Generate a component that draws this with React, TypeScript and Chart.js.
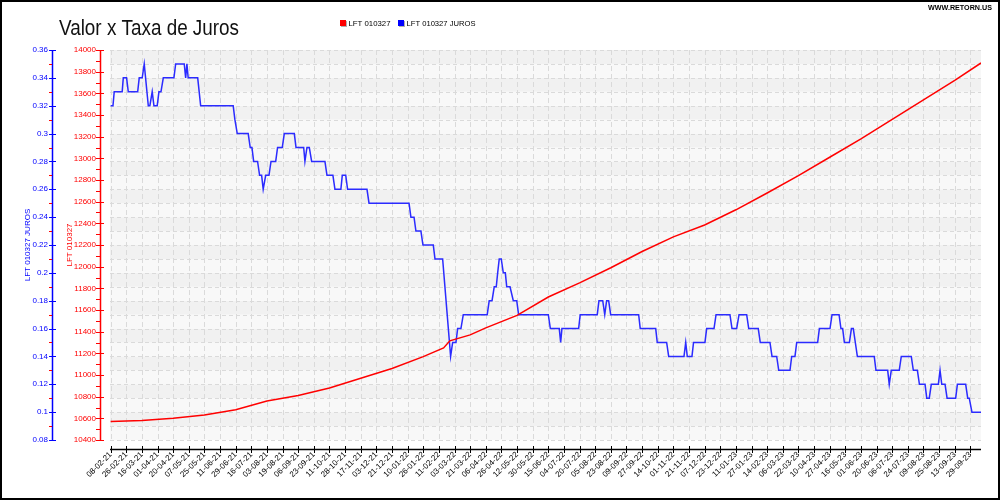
import React, { useEffect, useRef } from "react";
import { Chart, registerables } from "chart.js";

Chart.register(...registerables);

const TITLE = "Valor x Taxa de Juros";
const SERIES_VALOR = "LFT 010327";
const SERIES_JUROS = "LFT 010327 JUROS";
const WATERMARK = "WWW.RETORN.US";

const xLabels = [
  "08-02-21", "26-02-21", "16-03-21", "01-04-21", "20-04-21", "07-05-21", "25-05-21", "11-06-21",
  "29-06-21", "16-07-21", "03-08-21", "19-08-21", "06-09-21", "23-09-21", "11-10-21", "28-10-21",
  "17-11-21", "03-12-21", "21-12-21", "10-01-22", "26-01-22", "11-02-22", "03-03-22", "21-03-22",
  "06-04-22", "26-04-22", "12-05-22", "30-05-22", "15-06-22", "04-07-22", "20-07-22", "05-08-22",
  "23-08-22", "09-09-22", "27-09-22", "14-10-22", "01-11-22", "21-11-22", "07-12-22", "23-12-22",
  "11-01-23", "27-01-23", "14-02-23", "06-03-23", "22-03-23", "10-04-23", "27-04-23", "16-05-23",
  "01-06-23", "20-06-23", "06-07-23", "24-07-23", "09-08-23", "25-08-23", "13-09-23", "29-09-23",
];

const valorTicks = [10400, 10600, 10800, 11000, 11200, 11400, 11600, 11800, 12000, 12200, 12400,
  12600, 12800, 13000, 13200, 13400, 13600, 13800, 14000];
const jurosTicks = [0.08, 0.1, 0.12, 0.14, 0.16, 0.18, 0.2, 0.22, 0.24, 0.26, 0.28, 0.3, 0.32, 0.34, 0.36];

// position along the date axis (in label-index units) and value
const valorX = [0, 2, 4, 6, 8, 10, 12, 14, 16, 18, 20, 21.3, 21.7, 23, 24, 26, 28, 30, 32, 34, 36,
  38, 40, 42, 44, 46, 48, 50, 52, 54, 55.68];
const valorY = [10570, 10580, 10600, 10630, 10680, 10760, 10810, 10880, 10970, 11060, 11170, 11250,
  11315, 11370, 11435, 11550, 11720, 11850, 11990, 12140, 12275, 12385, 12525, 12680, 12840, 13010,
  13180, 13360, 13540, 13720, 13880];

const jurosX = [
  0, 0.15, 0.23, 0.74, 0.81, 1.02, 1.13, 1.73, 1.83, 2.02, 2.15, 2.41, 2.51, 2.66, 2.77, 2.98,
  3.09, 3.22, 3.37, 4.05, 4.16, 4.71, 4.8, 4.88, 4.96, 5.57, 5.76, 7.84, 7.95, 8.1, 8.8, 8.93,
  9.04, 9.15, 9.4, 9.53, 9.66, 9.76, 9.92, 10.13, 10.26, 10.56, 10.68, 10.98, 11.11, 11.75, 11.86,
  12.35, 12.43, 12.56, 12.71, 12.86, 13.71, 13.84, 14.22, 14.35, 14.73, 14.82, 15.04, 15.16, 16.4,
  16.53, 19.09, 19.21, 19.41, 19.53, 19.85, 19.98, 20.64, 20.75, 21.24, 21.75, 21.88, 22.09, 22.2,
  22.41, 22.56, 24.09, 24.22, 24.4, 24.54, 24.67, 24.76, 24.86, 24.99, 25.12, 25.25, 25.34, 25.55,
  25.76, 25.98, 26.1, 28.0, 28.13, 28.7, 28.79, 28.87, 29.94, 30.04, 31.13, 31.24, 31.48, 31.61,
  31.73, 31.86, 31.99, 33.78, 33.88, 34.87, 34.97, 35.57, 35.7, 36.68, 36.79, 36.89, 37.19, 37.29,
  38.02, 38.13, 38.6, 38.73, 39.62, 39.75, 40.05, 40.2, 40.69, 40.82, 41.43, 41.56, 42.18, 42.31,
  42.61, 42.74, 43.46, 43.57, 43.78, 43.89, 45.23, 45.34, 46.02, 46.15, 46.6, 46.72, 46.83, 46.94,
  47.26, 47.39, 47.51, 47.64, 47.77, 48.85, 48.96, 49.71, 49.81, 49.94, 50.45, 50.58, 51.22, 51.35,
  51.61, 51.74, 52.1, 52.21, 52.37, 52.5, 52.95, 53.06, 53.17, 53.38, 53.51, 54.06, 54.17, 54.7,
  54.83, 54.93, 55.1, 55.68,
];
const jurosY = [
  0.32, 0.32, 0.33, 0.33, 0.34, 0.34, 0.33, 0.33, 0.34, 0.34, 0.35, 0.32, 0.32, 0.33, 0.32, 0.32,
  0.33, 0.33, 0.34, 0.34, 0.35, 0.35, 0.34, 0.35, 0.34, 0.34, 0.32, 0.32, 0.31, 0.3, 0.3, 0.29,
  0.29, 0.28, 0.28, 0.27, 0.27, 0.26, 0.27, 0.27, 0.28, 0.28, 0.29, 0.29, 0.3, 0.3, 0.29,
  0.29, 0.28, 0.29, 0.29, 0.28, 0.28, 0.27, 0.27, 0.26, 0.26, 0.27, 0.27, 0.26, 0.26,
  0.25, 0.25, 0.24, 0.24, 0.23, 0.23, 0.22, 0.22, 0.21, 0.21, 0.14, 0.15, 0.15, 0.16,
  0.16, 0.17, 0.17, 0.18, 0.18, 0.19, 0.19, 0.2, 0.21, 0.21, 0.2, 0.2, 0.19, 0.19,
  0.18, 0.18, 0.17, 0.17, 0.16, 0.16, 0.15, 0.16, 0.16, 0.17, 0.17, 0.18, 0.18, 0.17,
  0.18, 0.18, 0.17, 0.17, 0.16, 0.16, 0.15, 0.15, 0.14, 0.14, 0.15, 0.14, 0.14, 0.15,
  0.15, 0.16, 0.16, 0.17, 0.17, 0.16, 0.16, 0.17, 0.17, 0.16, 0.16, 0.15, 0.15, 0.14,
  0.14, 0.13, 0.13, 0.14, 0.14, 0.15, 0.15, 0.16, 0.16, 0.17, 0.17, 0.16, 0.16, 0.15,
  0.15, 0.16, 0.16, 0.15, 0.14, 0.14, 0.13, 0.13, 0.12, 0.13, 0.13, 0.14, 0.14, 0.13,
  0.13, 0.12, 0.12, 0.11, 0.11, 0.12, 0.12, 0.13, 0.12, 0.12, 0.11, 0.11, 0.12, 0.12,
  0.11, 0.11, 0.1, 0.1,
];

const RED = "#ff0000";
const BLUE = "#0000ff";
const FONT = "'Liberation Sans', Arial, sans-serif";

function fitText(ctx: CanvasRenderingContext2D, text: string, x: number, y: number, w: number,
  font: string, color: string, baseline: CanvasTextBaseline) {
  ctx.save();
  ctx.font = font;
  ctx.fillStyle = color;
  ctx.textAlign = "left";
  ctx.textBaseline = baseline;
  const m = ctx.measureText(text).width || 1;
  ctx.translate(x, y);
  ctx.scale(w / m, 1);
  ctx.fillText(text, 0, 0);
  ctx.restore();
}

function seg(ctx: CanvasRenderingContext2D, x1: number, y1: number, x2: number, y2: number) {
  ctx.beginPath();
  ctx.moveTo(x1, y1);
  ctx.lineTo(x2, y2);
  ctx.stroke();
}

const decor = {
  id: "decor",
  beforeDatasetsDraw(chart: any) {
    const { ctx, chartArea: a, scales } = chart;
    const yJ = scales.yJ;
    const x = scales.x;
    ctx.save();
    for (let k = 0; k < 28; k++) {
      const p0 = yJ.getPixelForValue(0.08 + k * 0.01);
      const p1 = yJ.getPixelForValue(0.08 + (k + 1) * 0.01);
      ctx.fillStyle = k % 2 ? "#f1f1f1" : "#f8f8f8";
      ctx.fillRect(a.left, p1, a.right - a.left, p0 - p1);
    }
    ctx.lineWidth = 1;
    ctx.strokeStyle = "#dadada";
    ctx.setLineDash([4, 3]);
    for (let k = 0; k <= 28; k++) {
      const p = Math.round(yJ.getPixelForValue(0.08 + k * 0.01)) + 0.5;
      seg(ctx, a.left, p, a.right, p);
    }
    ctx.setLineDash([5, 3]);
    for (let i = 0; i < xLabels.length; i++) {
      const p = Math.round(x.getPixelForValue(i)) + 0.5;
      seg(ctx, p, a.top, p, a.bottom);
    }
    ctx.restore();
  },
  afterDraw(chart: any) {
    const { ctx, chartArea: a, scales } = chart;
    const yV = scales.yV;
    const yJ = scales.yJ;
    const x = scales.x;
    ctx.save();
    ctx.setLineDash([]);
    // red value axis
    const rx = 100.5;
    ctx.lineWidth = 1.5;
    ctx.strokeStyle = RED;
    seg(ctx, rx, yV.getPixelForValue(14000), rx, yV.getPixelForValue(10400));
    ctx.lineWidth = 1;
    for (let k = 0; k <= 36; k++) {
      const v = 10400 + k * 100;
      const p = Math.round(yV.getPixelForValue(v)) + 0.5;
      if (k % 2 === 0) seg(ctx, 96, p, 104, p);
      else seg(ctx, 96, p, 100, p);
    }
    // blue rate axis
    const bx = 52.5;
    ctx.lineWidth = 1.5;
    ctx.strokeStyle = BLUE;
    seg(ctx, bx, yJ.getPixelForValue(0.36), bx, yJ.getPixelForValue(0.08));
    ctx.lineWidth = 1;
    for (let k = 0; k <= 28; k++) {
      const p = Math.round(yJ.getPixelForValue(0.08 + k * 0.01)) + 0.5;
      if (k % 2 === 0) {
        ctx.strokeStyle = BLUE;
        seg(ctx, 49, p, 56, p);
      } else {
        ctx.strokeStyle = RED;
        seg(ctx, 49, p, 52, p);
      }
    }
    // date axis
    ctx.strokeStyle = "#000";
    ctx.lineWidth = 1.5;
    seg(ctx, a.left, 449.5, a.right, 449.5);
    ctx.lineWidth = 1;
    for (let i = 0; i < xLabels.length; i++) {
      const p = Math.round(x.getPixelForValue(i)) + 0.5;
      seg(ctx, p, 446, p, 453);
    }
    // title
    fitText(ctx, TITLE, 59, 35, 180, `22px 'Liberation Sans Narrow', ${FONT}`, "#111", "alphabetic");
    // legend
    ctx.fillStyle = "#b0b0b0";
    ctx.fillRect(341, 21, 6, 6);
    ctx.fillStyle = RED;
    ctx.fillRect(340, 20, 6, 6);
    fitText(ctx, SERIES_VALOR, 348.5, 23.5, 42, `8px ${FONT}`, "#000", "middle");
    ctx.fillStyle = "#b0b0b0";
    ctx.fillRect(399, 21, 6, 6);
    ctx.fillStyle = BLUE;
    ctx.fillRect(398, 20, 6, 6);
    fitText(ctx, SERIES_JUROS, 406.5, 23.5, 69, `8px ${FONT}`, "#000", "middle");
    // watermark
    fitText(ctx, WATERMARK, 928, 8, 64, `bold 8px ${FONT}`, "#000", "middle");
    // frame
    ctx.strokeStyle = "#000";
    ctx.lineWidth = 2;
    ctx.strokeRect(1, 1, 998, 498);
    ctx.restore();
  },
};

export default function App() {
  const ref = useRef<HTMLCanvasElement | null>(null);
  useEffect(() => {
    if (!ref.current) return;
    const chart = new Chart(ref.current, {
      type: "line",
      data: {
        datasets: [
          {
            label: SERIES_VALOR,
            data: valorX.map((v, i) => ({ x: v, y: valorY[i] })),
            yAxisID: "yV",
            borderColor: RED,
            borderWidth: 1.5,
            pointRadius: 0,
            tension: 0,
          },
          {
            label: SERIES_JUROS,
            data: jurosX.map((v, i) => ({ x: v, y: jurosY[i] })),
            yAxisID: "yJ",
            borderColor: "#2b2bff",
            borderWidth: 1.5,
            pointRadius: 0,
            tension: 0,
          },
        ],
      },
      options: {
        responsive: false,
        animation: false,
        devicePixelRatio: 1,
        layout: { padding: { top: 50, right: 19, bottom: 0, left: 0 } },
        plugins: {
          legend: { display: false },
          tooltip: { enabled: false },
          title: { display: false },
        },
        scales: {
          x: {
            type: "linear",
            min: -0.04,
            max: 55.68,
            grid: { display: false, drawTicks: false },
            border: { display: false },
            afterBuildTicks: (s: any) => {
              s.ticks = xLabels.map((_, i) => ({ value: i }));
            },
            afterFit: (s: any) => {
              s.height = 60;
            },
            ticks: {
              autoSkip: false,
              minRotation: 45,
              maxRotation: 45,
              padding: 10,
              color: "#000",
              font: { family: FONT, size: 8 },
              callback: (v: any) => xLabels[Math.round(Number(v))],
            },
          },
          yV: {
            type: "linear",
            position: "left",
            weight: 0,
            min: 10400,
            max: 14000,
            grid: { display: false, drawTicks: false },
            border: { display: false },
            afterBuildTicks: (s: any) => {
              s.ticks = valorTicks.map((v) => ({ value: v }));
            },
            afterFit: (s: any) => {
              s.width = 50;
            },
            ticks: {
              padding: 14,
              color: RED,
              font: { family: FONT, size: 8 },
              callback: (v: any) => String(v),
            },
            title: {
              display: true,
              text: SERIES_VALOR,
              color: RED,
              font: { family: FONT, size: 8 },
              padding: { top: 4.7, bottom: 0 },
            },
          },
          yJ: {
            type: "linear",
            position: "left",
            weight: 1,
            min: 0.08,
            max: 0.36,
            grid: { display: false, drawTicks: false },
            border: { display: false },
            afterBuildTicks: (s: any) => {
              s.ticks = jurosTicks.map((v) => ({ value: v }));
            },
            afterFit: (s: any) => {
              s.width = 60;
            },
            ticks: {
              padding: 12,
              color: BLUE,
              font: { family: FONT, size: 8 },
              callback: (v: any) => String(Math.round(Number(v) * 100) / 100),
            },
            title: {
              display: true,
              text: SERIES_JUROS,
              color: BLUE,
              font: { family: FONT, size: 8 },
              padding: { top: 22.7, bottom: 0 },
            },
          },
        },
      },
      plugins: [decor],
    } as any);
    return () => chart.destroy();
  }, []);
  return (
    <div style={{ position: "absolute", left: 0, top: 0, width: 1000, height: 500, background: "#fff" }}>
      <canvas ref={ref} width={1000} height={500} style={{ display: "block" }} />
    </div>
  );
}
